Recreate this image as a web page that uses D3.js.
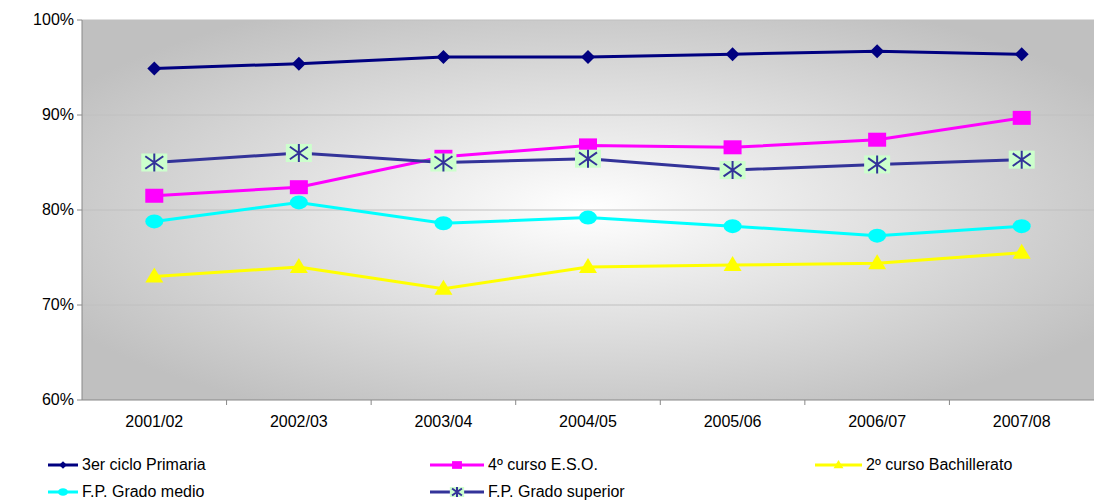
<!DOCTYPE html><html><head><meta charset="utf-8"><script src="https://cdn.jsdelivr.net/npm/d3@7"></script>
<style>body{margin:0;background:#fff}text{font-family:"Liberation Sans",Arial,sans-serif}</style></head><body><svg id="c" width="1094" height="501"></svg><script>
const categories=["2001/02","2002/03","2003/04","2004/05","2005/06","2006/07","2007/08"];
const yTicks=[60,70,80,90,100];
const primaria=[94.9,95.4,96.1,96.1,96.4,96.7,96.4];
const eso=[81.5,82.4,85.6,86.8,86.6,87.4,89.7];
const bach=[73.0,74.0,71.7,74.0,74.2,74.4,75.5];
const medio=[78.8,80.8,78.6,79.2,78.3,77.3,78.3];
const superior=[85.0,86.0,85.0,85.4,84.2,84.8,85.3];
const series=[
 {name:"3er ciclo Primaria",values:primaria,color:"#000080",m:"diamond"},
 {name:"4º curso E.S.O.",values:eso,color:"#ff00ff",m:"square"},
 {name:"2º curso Bachillerato",values:bach,color:"#ffff00",m:"triangle"},
 {name:"F.P. Grado medio",values:medio,color:"#00ffff",m:"circle"},
 {name:"F.P. Grado superior",values:superior,color:"#333399",m:"star"}];
const svg=d3.select("#c");
const L=82,R=1094,T=20,B=400;
const x=d3.scaleBand().domain(categories).range([L,R]);
const y=d3.scaleLinear().domain([60,100]).range([B,T]);
const defs=svg.append("defs");
const g=defs.append("radialGradient").attr("id","bg").attr("cx","50%").attr("cy","50%").attr("r","60%");
g.append("stop").attr("offset","0").attr("stop-color","#ffffff");
g.append("stop").attr("offset","1").attr("stop-color","#c0c0c0");
svg.append("rect").attr("x",L).attr("y",T).attr("width",R-L).attr("height",B-T).attr("fill","url(#bg)");
svg.append("g").selectAll("line").data(yTicks.slice(1)).join("line").attr("x1",L).attr("x2",R).attr("y1",d=>y(d)).attr("y2",d=>y(d)).attr("stroke","#c0c0c0");
svg.append("line").attr("x1",L).attr("x2",L).attr("y1",T).attr("y2",B).attr("stroke","#888");
svg.append("line").attr("x1",L).attr("x2",R).attr("y1",B).attr("y2",B).attr("stroke","#888");
svg.append("g").selectAll("line").data(yTicks).join("line").attr("x1",L-5).attr("x2",L).attr("y1",d=>y(d)).attr("y2",d=>y(d)).attr("stroke","#888");
svg.append("g").selectAll("line").data(categories.slice(1)).join("line").attr("x1",d=>x(d)).attr("x2",d=>x(d)).attr("y1",B).attr("y2",B+5).attr("stroke","#888");
svg.append("g").selectAll("text").data(yTicks).join("text").attr("x",L-8).attr("y",d=>y(d)+5).attr("text-anchor","end").attr("font-size",16).text(d=>d+"%");
svg.append("g").selectAll("text").data(categories).join("text").attr("x",d=>x(d)+x.bandwidth()/2).attr("y",B+27).attr("text-anchor","middle").attr("font-size",16).text(d=>d);
function marker(sel,s,cx,cy,sc){
 sc=sc||1;
 if(s.m=="diamond")sel.append("path").attr("d",`M${cx},${cy-7*sc}L${cx+7*sc},${cy}L${cx},${cy+7*sc}L${cx-7*sc},${cy}Z`).attr("fill",s.color);
 if(s.m=="square")sel.append("rect").attr("x",cx-9*sc).attr("y",cy-7*sc).attr("width",18*sc).attr("height",14*sc).attr("fill",s.color);
 if(s.m=="triangle")sel.append("path").attr("d",`M${cx},${cy-9*sc}L${cx+9*sc},${cy+6*sc}L${cx-9*sc},${cy+6*sc}Z`).attr("fill",s.color);
 if(s.m=="circle")sel.append("ellipse").attr("cx",cx).attr("cy",cy).attr("rx",9*sc).attr("ry",7*sc).attr("fill",s.color);
 if(s.m=="star"){sel.append("rect").attr("x",cx-13*sc).attr("y",cy-9*sc).attr("width",26*sc).attr("height",18*sc).attr("fill","#ccffcc");
  const r=9*sc;sel.append("path").attr("d",`M${cx},${cy-r}V${cy+r}M${cx-r},${cy-r*0.7}L${cx+r},${cy+r*0.7}M${cx-r},${cy+r*0.7}L${cx+r},${cy-r*0.7}`).attr("stroke",s.color).attr("stroke-width",2);}
}
const line=d3.line().x((d,i)=>x(categories[i])+x.bandwidth()/2).y(d=>y(d));
series.forEach(s=>{
 svg.append("path").attr("d",line(s.values)).attr("fill","none").attr("stroke",s.color).attr("stroke-width",3);
 const gg=svg.append("g");
 s.values.forEach((v,i)=>marker(gg,s,x(categories[i])+x.bandwidth()/2,y(v)));
});
const leg=[[48,465,82],[430,465,488],[815,465,866],[48,492,82],[430,492,488]];
series.forEach((s,i)=>{
 const [lx,ly,tx]=leg[i];
 svg.append("line").attr("x1",lx).attr("x2",tx-4).attr("y1",ly).attr("y2",ly).attr("stroke",s.color).attr("stroke-width",3);
 const gg=svg.append("g");marker(gg,s,(lx+tx-4)/2,ly,0.55);
 svg.append("text").attr("x",tx).attr("y",ly+5).attr("font-size",16).text(s.name);
});
</script></body></html>
